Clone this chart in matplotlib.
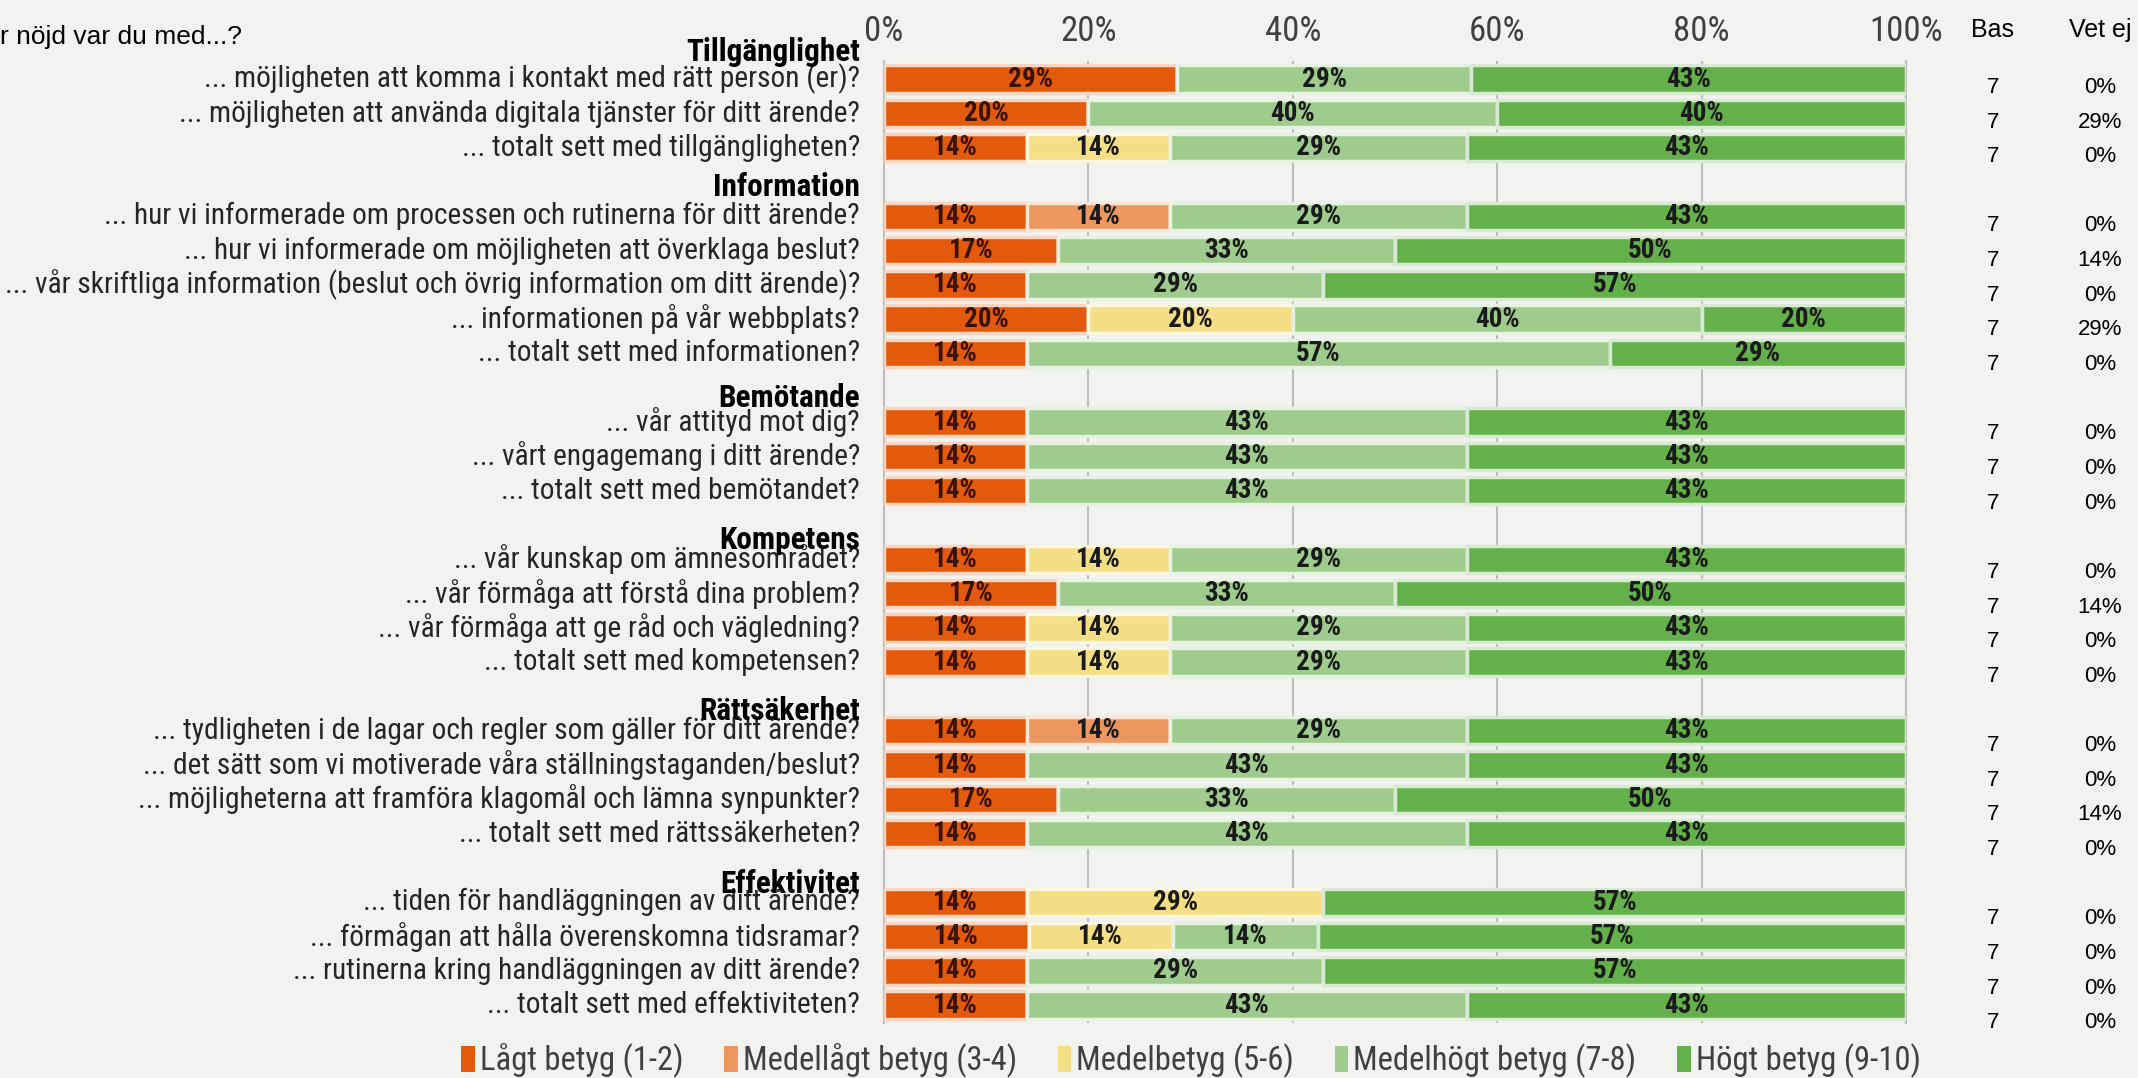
import numpy as np
import matplotlib.pyplot as plt
import matplotlib.colors as mcolors
from matplotlib.patches import Patch

# ---- data -------------------------------------------------------------
groups = ['Tillgänglighet', 'Information', 'Bemötande', 'Kompetens',
          'Rättsäkerhet', 'Effektivitet']
group_sizes = [3, 5, 3, 4, 4, 4]

questions = [
    '... möjligheten att komma i kontakt med rätt person (er)?',
    '... möjligheten att använda digitala tjänster för ditt ärende?',
    '... totalt sett med tillgängligheten?',
    '... hur vi informerade om processen och rutinerna för ditt ärende?',
    '... hur vi informerade om möjligheten att överklaga beslut?',
    '... vår skriftliga information (beslut och övrig information om ditt ärende)?',
    '... informationen på vår webbplats?',
    '... totalt sett med informationen?',
    '... vår attityd mot dig?',
    '... vårt engagemang i ditt ärende?',
    '... totalt sett med bemötandet?',
    '... vår kunskap om ämnesområdet?',
    '... vår förmåga att förstå dina problem?',
    '... vår förmåga att ge råd och vägledning?',
    '... totalt sett med kompetensen?',
    '... tydligheten i de lagar och regler som gäller för ditt ärende?',
    '... det sätt som vi motiverade våra ställningstaganden/beslut?',
    '... möjligheterna att framföra klagomål och lämna synpunkter?',
    '... totalt sett med rättssäkerheten?',
    '... tiden för handläggningen av ditt ärende?',
    '... förmågan att hålla överenskomna tidsramar?',
    '... rutinerna kring handläggningen av ditt ärende?',
    '... totalt sett med effektiviteten?',
]

series = ['Lågt betyg (1-2)', 'Medellågt betyg (3-4)', 'Medelbetyg (5-6)',
          'Medelhögt betyg (7-8)', 'Högt betyg (9-10)']

lagt       = [29, 20, 14, 14, 17, 14, 20, 14, 14, 14, 14, 14, 17, 14, 14, 14, 14, 17, 14, 14, 14, 14, 14]
medellagt  = [0, 0, 0, 14, 0, 0, 0, 0, 0, 0, 0, 0, 0, 0, 0, 14, 0, 0, 0, 0, 0, 0, 0]
medel      = [0, 0, 14, 0, 0, 0, 20, 0, 0, 0, 0, 14, 0, 14, 14, 0, 0, 0, 0, 29, 14, 0, 0]
medelhogt  = [29, 40, 29, 29, 33, 29, 40, 57, 43, 43, 43, 29, 33, 29, 29, 29, 43, 33, 43, 0, 14, 29, 43]
hogt       = [43, 40, 43, 43, 50, 57, 20, 29, 43, 43, 43, 43, 50, 43, 43, 43, 43, 50, 43, 57, 57, 57, 43]

bas    = [7] * 23
vet_ej = [0, 29, 0, 0, 14, 0, 29, 0, 0, 0, 0, 0, 14, 0, 0, 0, 0, 14, 0, 0, 0, 0, 0]

colors = ['#E35A0C', '#EE9660', '#F5DF86', '#9FCC8C', '#64B04B']

# ---- layout -----------------------------------------------------------
BG = '#F2F2F0'
NARROW = ['Roboto Condensed', 'DejaVu Sans']
REG = ['Liberation Sans', 'DejaVu Sans']

# slot positions: one header slot before each group
row_slots, head_slots = [], []
s = 0
for n in group_sizes:
    head_slots.append(s)
    row_slots.extend(range(s + 1, s + 1 + n))
    s += n + 1
row_slots = np.array(row_slots, dtype=float)
head_offset = [0.2, 0.14, 0.3, 0.44, 0.41, 0.46]

vals = np.array([lagt, medellagt, medel, medelhogt, hogt], dtype=float).T
widths = vals / vals.sum(axis=1, keepdims=True) * 100

fig = plt.figure(figsize=(21.38, 10.78), dpi=100, facecolor=BG)
ax = fig.add_axes([884 / 2138, 1 - 1022.6 / 1078, 1022 / 2138, 961.2 / 1078])
ax.set_facecolor(BG)

left = np.zeros(len(questions))
handles = []
for j, (name, c) in enumerate(zip(series, colors)):
    glow = mcolors.to_hex(np.array(mcolors.to_rgb(c)) * 0.25 + 0.75)
    ax.barh(row_slots, widths[:, j], left=left, height=0.8, color=c,
            edgecolor=glow, linewidth=2.5, zorder=3)
    for y, w, l, v in zip(row_slots, widths[:, j], left, vals[:, j]):
        if v > 0:
            ax.text(l + w / 2, y, f'{v:.0f}%', ha='center', va='center',
                    fontsize=19.5, fontweight='bold', family=NARROW,
                    color='#3a1200' if j == 0 else '#1a1a1a', zorder=4)
    left += widths[:, j]
    handles.append(Patch(facecolor=c, edgecolor='none', label=name))

ax.set_xlim(0, 100)
ax.set_ylim(28.51, 0.483)
ax.set_xticks(np.arange(0, 101, 20))
ax.set_xticklabels([f'{t}%' for t in range(0, 101, 20)], family=NARROW,
                   fontsize=25, color='#404040')
ax.xaxis.tick_top()
ax.tick_params(axis='x', length=0, pad=10)
ax.set_yticks([])
ax.grid(axis='x', color='#BDBDBD', linewidth=1.5, zorder=0)
for side in ['top', 'bottom']:
    ax.spines[side].set_visible(False)
for side in ['left', 'right']:
    ax.spines[side].set_color('#BDBDBD')
    ax.spines[side].set_linewidth(1.5)

# question labels and group headers
ytr = ax.get_yaxis_transform()
for y, q in zip(row_slots, questions):
    ax.text(-0.0235, y, q, transform=ytr, ha='right', va='center',
            fontsize=21.2, family=NARROW, color='#262626', clip_on=False)
for y, g, off in zip(head_slots, groups, head_offset):
    ax.text(-0.0235, y + off, g, transform=ytr, ha='right', va='center',
            fontsize=22.5, fontweight='bold', family=NARROW, color='black',
            clip_on=False)

# Bas / Vet ej columns
fig.text(1993 / 2138, 1 - 30 / 1078, 'Bas', ha='center', va='center',
         fontsize=18, family=REG)
fig.text(2100 / 2138, 1 - 30 / 1078, 'Vet ej', ha='center', va='center',
         fontsize=18, family=REG)
for y, b, v in zip(row_slots, bas, vet_ej):
    yc = y + 0.24 + (y - 1) * 0.0103
    ax.text(1.0851, yc, str(b), transform=ytr, ha='center', va='center',
            fontsize=16, family=REG, clip_on=False)
    ax.text(1.1898, yc, f'{v}%', transform=ytr, ha='center', va='center',
            fontsize=16, family=REG, clip_on=False)

fig.text(0, 1 - 37 / 1078, 'r nöjd var du med...?', ha='left', va='center',
         fontsize=19, family=REG)

fig.legend(handles=handles, loc='center', bbox_to_anchor=(0.557, 1 - 1061 / 1078),
           ncol=5, frameon=False, prop={'family': NARROW, 'size': 23.5},
           labelcolor='#404040', handlelength=0.42, handleheight=0.85,
           handletextpad=0.15, columnspacing=1.25)

fig.savefig('out.png', dpi=100, facecolor=BG)
